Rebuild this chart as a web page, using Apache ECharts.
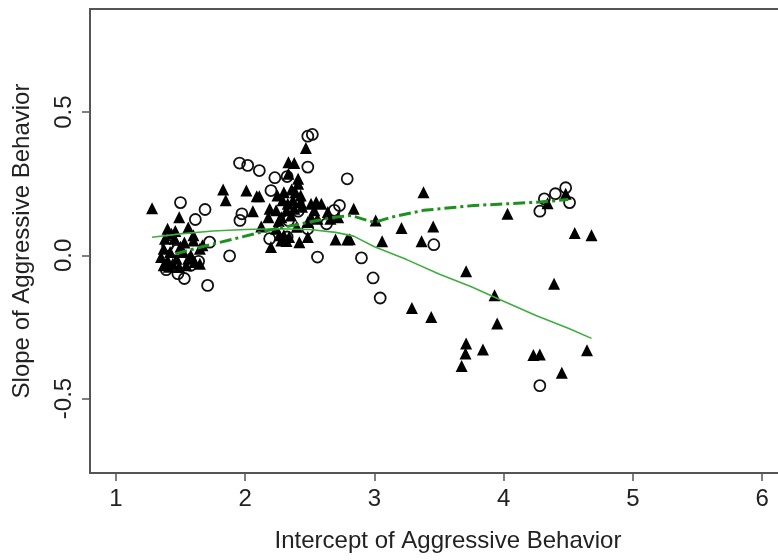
<!DOCTYPE html>
<html>
<head>
<meta charset="utf-8">
<script src="https://cdn.jsdelivr.net/npm/echarts@6/dist/echarts.min.js"></script>
<style>
  html, body { margin: 0; padding: 0; background: #fff; }
  #chart { width: 778px; height: 560px; }
</style>
</head>
<body>
<div id="chart"></div>
<script>
// ticks
var xTicks = [1, 2, 3, 4, 5, 6];
var yTicks = [-0.5, 0, 0.5];

// filled triangles (intercept, slope)
var triangles = [
  [1.28, 0.164],
  [1.49, 0.133], [1.56, 0.097], [1.40, 0.093], [1.60, 0.07], [1.60, 0.052], [1.38, 0.058],
  [1.455, 0.058], [1.67, 0.035], [1.65, 0.023], [1.37, 0.023], [1.42, 0.012], [1.52, 0.012],
  [1.35, -0.006], [1.40, -0.017], [1.47, -0.012], [1.56, -0.012], [1.61, -0.023], [1.37, -0.035],
  [1.44, -0.029], [1.545, -0.035], [1.65, -0.029], [1.49, -0.041], [1.41, -0.04], [1.43, 0.075],
  [1.50, 0.03], [1.46, 0.085], [1.53, 0.045], [1.58, 0.0],
  [2.47, 0.375], [2.335, 0.325], [2.38, 0.322], [2.335, 0.285], [2.41, 0.267], [2.41, 0.25],
  [1.83, 0.23], [2.01, 0.226], [1.85, 0.192], [2.09, 0.206], [2.11, 0.206], [2.25, 0.209],
  [2.30, 0.22], [2.39, 0.22], [2.43, 0.209], [2.06, 0.154], [2.19, 0.163], [2.29, 0.192],
  [2.33, 0.18], [2.37, 0.192], [2.43, 0.186], [2.51, 0.18], [2.55, 0.186], [2.59, 0.18],
  [2.24, 0.157], [2.32, 0.157], [2.38, 0.163], [2.535, 0.157], [2.18, 0.133], [2.28, 0.133],
  [2.355, 0.139], [2.51, 0.133], [2.56, 0.128], [2.66, 0.128], [2.125, 0.101], [2.24, 0.093],
  [2.485, 0.116], [2.64, 0.151], [2.72, 0.133], [2.265, 0.07], [2.30, 0.07], [2.34, 0.064],
  [2.28, 0.052], [2.32, 0.05], [2.485, 0.064], [2.20, 0.029], [2.42, 0.046], [2.70, 0.055],
  [2.79, 0.055], [2.36, 0.23], [2.44, 0.17], [2.26, 0.12], [2.40, 0.10],
  [2.84, 0.163], [3.38, 0.22], [3.01, 0.122], [3.21, 0.095], [3.455, 0.101], [2.81, 0.056],
  [3.06, 0.049], [3.365, 0.049], [4.03, 0.145], [4.34, 0.182], [4.48, 0.215], [4.55, 0.078],
  [4.68, 0.07], [3.71, -0.056], [4.39, -0.099], [3.93, -0.139], [3.29, -0.184], [3.44, -0.215],
  [3.95, -0.238], [3.71, -0.308], [3.705, -0.343], [3.84, -0.329], [3.675, -0.386],
  [4.23, -0.348], [4.28, -0.346], [4.645, -0.331], [4.45, -0.41]
];

// open circles
var circles = [
  [1.50, 0.184], [1.69, 0.16], [1.615, 0.125], [1.725, 0.046], [1.88, -0.002], [1.64, -0.021],
  [1.48, -0.064], [1.53, -0.081], [1.71, -0.105], [1.40, 0.035], [1.47, 0.017], [1.58, -0.035],
  [1.39, -0.05],
  [2.485, 0.416], [2.52, 0.422], [1.957, 0.322], [2.02, 0.314], [2.11, 0.296], [2.485, 0.308],
  [2.23, 0.271], [2.325, 0.275], [2.79, 0.267], [2.20, 0.226], [1.975, 0.145], [1.96, 0.122],
  [2.41, 0.154], [2.69, 0.157], [2.73, 0.174], [2.63, 0.11], [2.485, 0.093], [2.19, 0.058],
  [2.325, 0.064], [2.56, -0.006], [2.335, 0.122], [2.41, 0.186],
  [3.46, 0.037], [2.90, -0.009], [2.99, -0.079], [3.045, -0.149], [4.28, 0.154], [4.315, 0.197],
  [4.40, 0.215], [4.48, 0.236], [4.51, 0.184], [4.28, -0.455]
];

// smooth curves
var solidCurve = [
  [1.28, 0.063], [1.5, 0.075], [1.75, 0.085], [2.0, 0.09], [2.25, 0.093], [2.5, 0.09],
  [2.7, 0.08], [2.84, 0.067], [3.0, 0.03], [3.25, -0.015], [3.5, -0.065], [3.75, -0.11],
  [4.0, -0.16], [4.25, -0.21], [4.5, -0.255], [4.68, -0.29]
];
var dashCurve = [
  [1.46, 0.005], [1.66, 0.029], [1.92, 0.058], [2.18, 0.087], [2.43, 0.11], [2.69, 0.133],
  [2.82, 0.139], [2.9, 0.128], [3.0, 0.115], [3.13, 0.133], [3.38, 0.157], [3.77, 0.174],
  [4.28, 0.186], [4.5, 0.195]
];

var chart = echarts.init(document.getElementById("chart"));
var font = "Liberation Sans, Arial, sans-serif";

var option = {
  animation: false,
  backgroundColor: "#fff",
  grid: {
    left: 90, top: 9, right: -10, bottom: 87,
    show: true, borderColor: "#555", borderWidth: 2,
    outerBoundsMode: "none"
  },
  xAxis: {
    type: "value", min: 0.8, max: 6.2,
    name: "Intercept of Aggressive Behavior",
    nameLocation: "middle", nameGap: 56,
    nameTextStyle: { fontFamily: font, fontSize: 24, color: "#222", padding: [0, 0, 0, 18] },
    axisLine: { show: false, onZero: false },
    axisTick: { show: true, length: 8, lineStyle: { color: "#555", width: 1.5 }, customValues: xTicks },
    axisLabel: { fontFamily: font, fontSize: 24, color: "#222", margin: 14, customValues: xTicks },
    splitLine: { show: false }
  },
  yAxis: {
    type: "value", min: -0.76, max: 0.86,
    name: "Slope of Aggressive Behavior",
    nameLocation: "middle", nameGap: 56, nameRotate: 90,
    nameTextStyle: { fontFamily: font, fontSize: 24, color: "#222" },
    axisLine: { show: false, onZero: false },
    axisTick: { show: true, length: 8, lineStyle: { color: "#555", width: 1.5 }, customValues: yTicks },
    axisLabel: {
      fontFamily: font, fontSize: 24, color: "#222", margin: 14, rotate: 90,
      customValues: yTicks,
      formatter: function (v) { return v.toFixed(1); }
    },
    splitLine: { show: false }
  },
  series: [
    {
      type: "scatter", data: circles, symbol: "circle", symbolSize: 11,
      itemStyle: { color: "rgba(255,255,255,0)", borderColor: "#111", borderWidth: 1.8, opacity: 1 }
    },
    {
      type: "scatter", data: triangles, symbol: "triangle", symbolSize: 12,
      itemStyle: { color: "#000", opacity: 1 }
    },
    {
      type: "line", data: solidCurve, showSymbol: false, z: 5,
      lineStyle: { color: "#3fae3f", width: 1.6 }
    },
    {
      type: "line", data: dashCurve, showSymbol: false, z: 5,
      lineStyle: { color: "#1e901e", width: 3, type: [12, 4, 3, 4] }
    }
  ]
};
chart.setOption(option);
</script>
</body>
</html>
